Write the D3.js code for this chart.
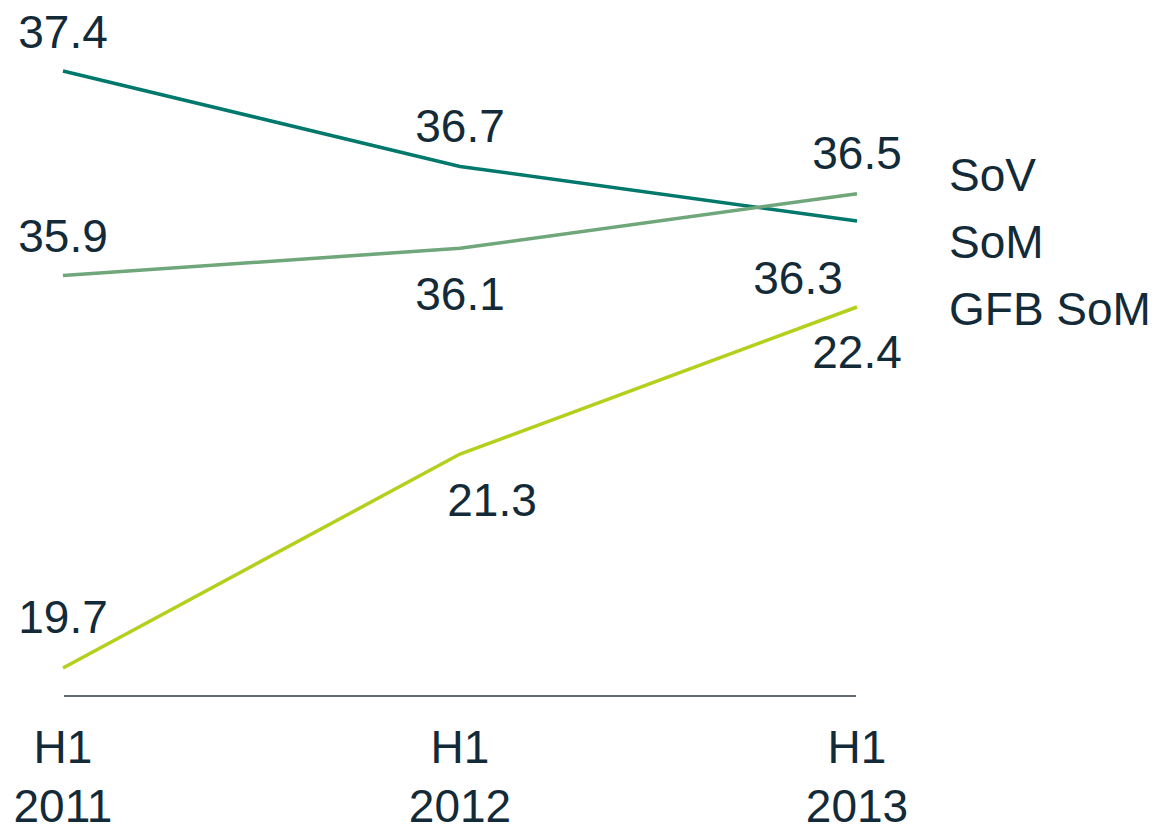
<!DOCTYPE html>
<html><head><meta charset="utf-8">
<script src="https://cdn.jsdelivr.net/npm/d3@7"></script>
<style>html,body{margin:0;padding:0;background:#fff;}svg{display:block;}</style>
</head><body><svg id="c" width="1159" height="825"></svg>
<script>
const categories = ["H1\n2011", "H1\n2012", "H1\n2013"];
const sovValues = [37.4, 36.7, 36.3];
const somValues = [35.9, 36.1, 36.5];
const gfbValues = [19.7, 21.3, 22.4];
const seriesNames = ["SoV", "SoM", "GFB SoM"];
const colors = ["#00786c", "#6fa77b", "#b5cf1d"];
const textColor = "#132a38";

const svg = d3.select("#c");
const font = "'Liberation Sans', Arial, sans-serif";
const fs = 46;

const x = d3.scalePoint().domain(categories).range([63, 857]);
// broken axis: upper band for SoV/SoM, lower band for GFB SoM
const yUpper = d3.scaleLinear().domain([36.3, 37.4]).range([221, 71]);
const yLower = d3.scaleLinear().domain([19.7, 22.4]).range([668, 307]);

const series = [
  {name: seriesNames[0], values: sovValues, y: yUpper, color: colors[0],
   lab: [[0,-23],[0,-24],[-59,73]]},
  {name: seriesNames[1], values: somValues, y: yUpper, color: colors[1],
   lab: [[0,-24],[0,62],[0,-25]]},
  {name: seriesNames[2], values: gfbValues, y: yLower, color: colors[2],
   lab: [[0,-35],[32,62],[0,61]]}
];

// baseline
svg.append("line").attr("x1", 64).attr("x2", 856).attr("y1", 696).attr("y2", 696)
  .attr("stroke", "#2b3a44").attr("stroke-width", 1.5);

series.forEach(s => {
  const line = d3.line().x((d,i) => x(categories[i])).y(d => s.y(d));
  svg.append("path").datum(s.values).attr("d", line)
    .attr("fill", "none").attr("stroke", s.color).attr("stroke-width", 3.5);
});

// value labels (drawn after lines)
series.forEach(s => {
  s.values.forEach((v, i) => {
    svg.append("text")
      .attr("x", x(categories[i]) + s.lab[i][0])
      .attr("y", s.y(v) + s.lab[i][1])
      .attr("text-anchor", "middle")
      .attr("font-family", font).attr("font-size", fs)
      .attr("fill", textColor).text(v.toFixed(1));
  });
});

// legend
const legY = [191, 258, 325];
seriesNames.forEach((n, i) => {
  svg.append("text").attr("x", 949).attr("y", legY[i])
    .attr("font-family", font).attr("font-size", fs).attr("fill", textColor).text(n);
});

// x axis labels
categories.forEach(c => {
  const lines = c.split("\n");
  lines.forEach((t, j) => {
    svg.append("text").attr("x", x(c)).attr("y", 763 + j * 59)
      .attr("text-anchor", "middle")
      .attr("font-family", font).attr("font-size", fs).attr("fill", textColor).text(t);
  });
});
</script></body></html>
